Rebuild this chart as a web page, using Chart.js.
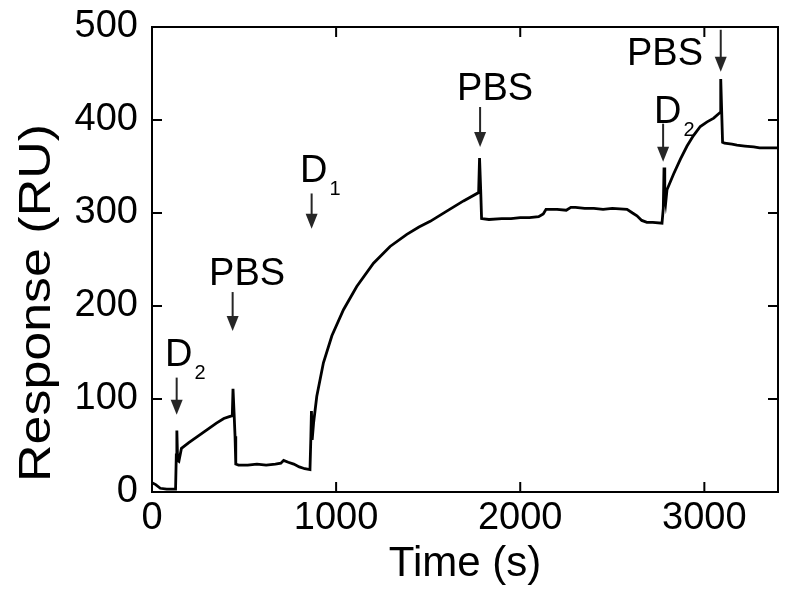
<!DOCTYPE html>
<html>
<head>
<meta charset="utf-8">
<script src="https://cdn.jsdelivr.net/npm/chart.js@4.4.0/dist/chart.umd.min.js"></script>
<style>
  html, body { margin: 0; padding: 0; background: #fff; }
  #wrap { width: 786px; height: 590px; }
</style>
</head>
<body>
<div id="wrap"><canvas id="spr" width="786" height="590"></canvas></div>
<script>
// sensorgram: time (s) and response (RU)
const timeS = [0, 20, 45, 80, 110, 128, 132, 135, 139, 146, 160, 200, 250, 300, 350, 390, 420, 436, 440, 446,
  451, 455, 470, 520, 570, 620, 670, 700, 715, 740, 770, 800, 830, 858, 863, 866, 870, 878, 895, 931,
  977, 1040, 1112, 1203, 1293, 1384, 1450, 1511, 1601, 1692, 1774, 1779, 1785, 1790, 1830, 1900, 1950, 2000, 2050, 2100,
  2125, 2140, 2200, 2250, 2275, 2300, 2350, 2400, 2450, 2500, 2580, 2610, 2634, 2660, 2688, 2720, 2770, 2777, 2781, 2785,
  2790, 2797, 2833, 2870, 2906, 2940, 2978, 3015, 3051, 3085, 3089, 3094, 3099, 3110, 3150, 3177, 3220, 3268, 3300, 3350, 3400];
const responseRU = [10, 8, 4, 3, 3, 3, 40, 66, 34, 33, 47, 53, 60, 67, 74, 79, 81, 82, 111, 84,
  60, 30, 29, 29, 30, 29, 30, 31, 34, 32, 30, 27, 25, 24, 60, 87, 56, 75, 103, 139,
  168, 196, 221, 246, 264, 277, 285, 291, 302, 313, 322, 359, 326, 294, 293, 294, 294, 295, 295, 296,
  299, 304, 304, 303, 306, 306, 305, 305, 304, 305, 304, 300, 297, 292, 290, 290, 289, 305, 349, 318,
  311, 325, 342, 358, 372, 383, 393, 398, 402, 408, 444, 410, 376, 375, 374, 373, 372, 371, 370, 370, 370];

const xTicks = [0, 1000, 2000, 3000];
const yTicks = [0, 100, 200, 300, 400, 500];

// injection markers (arrow time, arrow top / tip in RU, label anchor in data units)
const markLabels = ['D', 'PBS', 'D', 'PBS', 'D', 'PBS'];
const markSubs = ['2', '', '1', '', '2', ''];
const markTimes = [134, 438, 867, 1782, 2776, 3089];
const markArrowTop = [123, 215, 321, 414, 396, 497];
const markArrowTip = [83, 173, 283, 371, 355, 452];
const markTextX = [71, 310, 804, 1657, 2727, 2580];
const markTextY = [135, 223, 333, 421, 397, 459];

const FONT = '"Liberation Sans", Arial, sans-serif';

const framePlugin = {
  id: 'frame',
  afterDatasetsDraw(chart) {
    const { ctx, chartArea: a, scales: { x, y } } = chart;
    ctx.save();

    // box with inward ticks on all sides
    ctx.strokeStyle = '#000';
    ctx.lineWidth = 2;
    ctx.strokeRect(a.left, a.top, a.right - a.left, a.bottom - a.top);
    const tl = 10;
    ctx.beginPath();
    xTicks.forEach(v => {
      const px = x.getPixelForValue(v);
      ctx.moveTo(px, a.bottom); ctx.lineTo(px, a.bottom - tl);
      ctx.moveTo(px, a.top); ctx.lineTo(px, a.top + tl);
    });
    yTicks.forEach(v => {
      const py = y.getPixelForValue(v);
      ctx.moveTo(a.left, py); ctx.lineTo(a.left + tl, py);
      ctx.moveTo(a.right, py); ctx.lineTo(a.right - tl, py);
    });
    ctx.stroke();

    // arrows + labels
    markTimes.forEach((t, i) => {
      const px = x.getPixelForValue(t);
      const top = y.getPixelForValue(markArrowTop[i]);
      const tip = y.getPixelForValue(markArrowTip[i]);
      ctx.strokeStyle = '#262626';
      ctx.fillStyle = '#262626';
      ctx.lineWidth = 2;
      ctx.beginPath();
      ctx.moveTo(px, top);
      ctx.lineTo(px, tip - 12);
      ctx.stroke();
      ctx.beginPath();
      ctx.moveTo(px - 6, tip - 15);
      ctx.lineTo(px + 6, tip - 15);
      ctx.lineTo(px, tip);
      ctx.closePath();
      ctx.fill();

      const tx = x.getPixelForValue(markTextX[i]);
      const ty = y.getPixelForValue(markTextY[i]);
      ctx.fillStyle = '#000';
      ctx.textAlign = 'left';
      ctx.textBaseline = 'alphabetic';
      ctx.font = '38px ' + FONT;
      ctx.fillText(markLabels[i], tx, ty);
      if (markSubs[i]) {
        const w = ctx.measureText(markLabels[i]).width;
        ctx.font = '20px ' + FONT;
        ctx.fillText(markSubs[i], tx + w + 2, ty + 13);
      }
    });

    // y title, drawn by hand because the original is stretched along its length
    ctx.fillStyle = '#000';
    ctx.font = '44px ' + FONT;
    ctx.textAlign = 'center';
    ctx.textBaseline = 'middle';
    const label = 'Response (RU)';
    const k = 358 / ctx.measureText(label).width;
    ctx.translate(38, 303);
    ctx.rotate(-Math.PI / 2);
    ctx.scale(k, 1);
    ctx.fillText(label, 0, 0);
    ctx.restore();
  }
};

const points = timeS.map((t, i) => ({ x: t, y: responseRU[i] }));

new Chart(document.getElementById('spr'), {
  type: 'line',
  data: {
    datasets: [{
      data: points,
      borderColor: '#000',
      borderWidth: 2.8,
      pointRadius: 0,
      tension: 0,
      fill: false
    }]
  },
  options: {
    responsive: false,
    animation: false,
    layout: { padding: { top: 27, right: 8, left: 0, bottom: 0 } },
    plugins: { legend: { display: false }, tooltip: { enabled: false } },
    scales: {
      x: {
        type: 'linear',
        min: 0,
        max: 3400,
        afterFit: s => { s.height = 98; s.paddingLeft = 0; s.paddingRight = 0; },
        afterBuildTicks: s => { s.ticks = xTicks.map(v => ({ value: v })); },
        grid: { display: false, drawTicks: false },
        border: { display: false },
        ticks: { font: { family: FONT, size: 38 }, color: '#000', padding: 4, maxRotation: 0, callback: v => String(v) },
        title: { display: true, text: 'Time (s)', font: { family: FONT, size: 42 }, color: '#000', padding: 0 }
      },
      y: {
        min: 0,
        max: 500,
        afterFit: s => { s.width = 152; s.paddingTop = 0; s.paddingBottom = 0; },
        afterBuildTicks: s => { s.ticks = yTicks.map(v => ({ value: v })); },
        grid: { display: false, drawTicks: false },
        border: { display: false },
        ticks: { font: { family: FONT, size: 38 }, color: '#000', padding: 14, callback: v => String(v) }
      }
    }
  },
  plugins: [framePlugin]
});
</script>
</body>
</html>
